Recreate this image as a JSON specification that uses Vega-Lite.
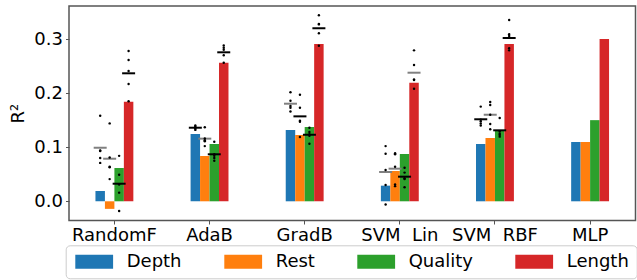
{
  "$schema": "https://vega.github.io/schema/vega-lite/v6.json",
  "width": 566.5,
  "height": 214.5,
  "autosize": {"type": "none"},
  "padding": {"left": 69, "top": 6, "right": 1.5, "bottom": 59.5},
  "background": "white",
  "config": {
    "font": "DejaVu Sans",
    "view": {"stroke": "#555555", "strokeWidth": 1.5},
    "axis": {"labelColor": "black", "titleColor": "black", "tickColor": "#555555", "domain": false, "grid": false}
  },
  "datasets": {
    "bars": [
      {"model": "RandomF", "feature": "Depth", "r2": 0.019},
      {"model": "RandomF", "feature": "Rest", "r2": -0.014},
      {"model": "RandomF", "feature": "Quality", "r2": 0.0615},
      {"model": "RandomF", "feature": "Length", "r2": 0.184},
      {"model": "AdaB", "feature": "Depth", "r2": 0.1244},
      {"model": "AdaB", "feature": "Rest", "r2": 0.0837},
      {"model": "AdaB", "feature": "Quality", "r2": 0.1059},
      {"model": "AdaB", "feature": "Length", "r2": 0.2562},
      {"model": "GradB", "feature": "Depth", "r2": 0.1318},
      {"model": "GradB", "feature": "Rest", "r2": 0.1226},
      {"model": "GradB", "feature": "Quality", "r2": 0.1373},
      {"model": "GradB", "feature": "Length", "r2": 0.2908},
      {"model": "SVM\u00a0\u00a0Lin", "feature": "Depth", "r2": 0.0289},
      {"model": "SVM\u00a0\u00a0Lin", "feature": "Rest", "r2": 0.056},
      {"model": "SVM\u00a0\u00a0Lin", "feature": "Quality", "r2": 0.0874},
      {"model": "SVM\u00a0\u00a0Lin", "feature": "Length", "r2": 0.2193},
      {"model": "SVM\u00a0\u00a0RBF", "feature": "Depth", "r2": 0.1059},
      {"model": "SVM\u00a0\u00a0RBF", "feature": "Rest", "r2": 0.117},
      {"model": "SVM\u00a0\u00a0RBF", "feature": "Quality", "r2": 0.1312},
      {"model": "SVM\u00a0\u00a0RBF", "feature": "Length", "r2": 0.2908},
      {"model": "MLP", "feature": "Depth", "r2": 0.1096},
      {"model": "MLP", "feature": "Rest", "r2": 0.1096},
      {"model": "MLP", "feature": "Quality", "r2": 0.15},
      {"model": "MLP", "feature": "Length", "r2": 0.3}
    ],
    "means": [
      {"model": "RandomF", "feature": "Depth", "r2": 0.099, "tone": "light"},
      {"model": "RandomF", "feature": "Rest", "r2": 0.0787, "tone": "light"},
      {"model": "RandomF", "feature": "Quality", "r2": 0.0325, "tone": "dark"},
      {"model": "RandomF", "feature": "Length", "r2": 0.2366, "tone": "dark"},
      {"model": "AdaB", "feature": "Depth", "r2": 0.136, "tone": "dark"},
      {"model": "AdaB", "feature": "Rest", "r2": 0.1158, "tone": "light"},
      {"model": "AdaB", "feature": "Quality", "r2": 0.0869, "tone": "dark"},
      {"model": "AdaB", "feature": "Length", "r2": 0.2754, "tone": "dark"},
      {"model": "GradB", "feature": "Depth", "r2": 0.1804, "tone": "light"},
      {"model": "GradB", "feature": "Rest", "r2": 0.157, "tone": "dark"},
      {"model": "GradB", "feature": "Quality", "r2": 0.123, "tone": "dark"},
      {"model": "GradB", "feature": "Length", "r2": 0.3197, "tone": "dark"},
      {"model": "SVM\u00a0\u00a0Lin", "feature": "Depth", "r2": 0.0542, "tone": "light"},
      {"model": "SVM\u00a0\u00a0Lin", "feature": "Rest", "r2": 0.0603, "tone": "light"},
      {"model": "SVM\u00a0\u00a0Lin", "feature": "Quality", "r2": 0.0455, "tone": "dark"},
      {"model": "SVM\u00a0\u00a0Lin", "feature": "Length", "r2": 0.2377, "tone": "light"},
      {"model": "SVM\u00a0\u00a0RBF", "feature": "Depth", "r2": 0.1516, "tone": "dark"},
      {"model": "SVM\u00a0\u00a0RBF", "feature": "Rest", "r2": 0.16, "tone": "light"},
      {"model": "SVM\u00a0\u00a0RBF", "feature": "Quality", "r2": 0.1312, "tone": "dark"},
      {"model": "SVM\u00a0\u00a0RBF", "feature": "Length", "r2": 0.3018, "tone": "dark"}
    ],
    "folds": [
      {"model": "RandomF", "feature": "Depth", "r2": 0.158},
      {"model": "RandomF", "feature": "Depth", "r2": 0.094},
      {"model": "RandomF", "feature": "Depth", "r2": 0.093},
      {"model": "RandomF", "feature": "Depth", "r2": 0.08},
      {"model": "RandomF", "feature": "Depth", "r2": 0.071},
      {"model": "RandomF", "feature": "Rest", "r2": 0.144},
      {"model": "RandomF", "feature": "Rest", "r2": 0.081},
      {"model": "RandomF", "feature": "Rest", "r2": 0.064},
      {"model": "RandomF", "feature": "Rest", "r2": 0.063},
      {"model": "RandomF", "feature": "Rest", "r2": 0.041},
      {"model": "RandomF", "feature": "Quality", "r2": 0.084},
      {"model": "RandomF", "feature": "Quality", "r2": 0.049},
      {"model": "RandomF", "feature": "Quality", "r2": 0.031},
      {"model": "RandomF", "feature": "Quality", "r2": 0.016},
      {"model": "RandomF", "feature": "Quality", "r2": -0.018},
      {"model": "RandomF", "feature": "Length", "r2": 0.278},
      {"model": "RandomF", "feature": "Length", "r2": 0.261},
      {"model": "RandomF", "feature": "Length", "r2": 0.241},
      {"model": "RandomF", "feature": "Length", "r2": 0.217},
      {"model": "RandomF", "feature": "Length", "r2": 0.185},
      {"model": "AdaB", "feature": "Depth", "r2": 0.14},
      {"model": "AdaB", "feature": "Depth", "r2": 0.138},
      {"model": "AdaB", "feature": "Depth", "r2": 0.136},
      {"model": "AdaB", "feature": "Depth", "r2": 0.134},
      {"model": "AdaB", "feature": "Depth", "r2": 0.132},
      {"model": "AdaB", "feature": "Rest", "r2": 0.137},
      {"model": "AdaB", "feature": "Rest", "r2": 0.116},
      {"model": "AdaB", "feature": "Rest", "r2": 0.113},
      {"model": "AdaB", "feature": "Rest", "r2": 0.111},
      {"model": "AdaB", "feature": "Rest", "r2": 0.102},
      {"model": "AdaB", "feature": "Quality", "r2": 0.11},
      {"model": "AdaB", "feature": "Quality", "r2": 0.087},
      {"model": "AdaB", "feature": "Quality", "r2": 0.084},
      {"model": "AdaB", "feature": "Quality", "r2": 0.08},
      {"model": "AdaB", "feature": "Quality", "r2": 0.075},
      {"model": "AdaB", "feature": "Length", "r2": 0.288},
      {"model": "AdaB", "feature": "Length", "r2": 0.284},
      {"model": "AdaB", "feature": "Length", "r2": 0.28},
      {"model": "AdaB", "feature": "Length", "r2": 0.27},
      {"model": "AdaB", "feature": "Length", "r2": 0.256},
      {"model": "GradB", "feature": "Depth", "r2": 0.2015},
      {"model": "GradB", "feature": "Depth", "r2": 0.186},
      {"model": "GradB", "feature": "Depth", "r2": 0.176},
      {"model": "GradB", "feature": "Depth", "r2": 0.173},
      {"model": "GradB", "feature": "Depth", "r2": 0.166},
      {"model": "GradB", "feature": "Rest", "r2": 0.197},
      {"model": "GradB", "feature": "Rest", "r2": 0.173},
      {"model": "GradB", "feature": "Rest", "r2": 0.149},
      {"model": "GradB", "feature": "Rest", "r2": 0.147},
      {"model": "GradB", "feature": "Rest", "r2": 0.119},
      {"model": "GradB", "feature": "Quality", "r2": 0.136},
      {"model": "GradB", "feature": "Quality", "r2": 0.128},
      {"model": "GradB", "feature": "Quality", "r2": 0.124},
      {"model": "GradB", "feature": "Quality", "r2": 0.121},
      {"model": "GradB", "feature": "Quality", "r2": 0.1065},
      {"model": "GradB", "feature": "Length", "r2": 0.344},
      {"model": "GradB", "feature": "Length", "r2": 0.328},
      {"model": "GradB", "feature": "Length", "r2": 0.327},
      {"model": "GradB", "feature": "Length", "r2": 0.3105},
      {"model": "GradB", "feature": "Length", "r2": 0.2875},
      {"model": "SVM\u00a0\u00a0Lin", "feature": "Depth", "r2": 0.102},
      {"model": "SVM\u00a0\u00a0Lin", "feature": "Depth", "r2": 0.088},
      {"model": "SVM\u00a0\u00a0Lin", "feature": "Depth", "r2": 0.058},
      {"model": "SVM\u00a0\u00a0Lin", "feature": "Depth", "r2": 0.03},
      {"model": "SVM\u00a0\u00a0Lin", "feature": "Depth", "r2": -0.006},
      {"model": "SVM\u00a0\u00a0Lin", "feature": "Rest", "r2": 0.089},
      {"model": "SVM\u00a0\u00a0Lin", "feature": "Rest", "r2": 0.087},
      {"model": "SVM\u00a0\u00a0Lin", "feature": "Rest", "r2": 0.064},
      {"model": "SVM\u00a0\u00a0Lin", "feature": "Rest", "r2": 0.031},
      {"model": "SVM\u00a0\u00a0Lin", "feature": "Rest", "r2": 0.028},
      {"model": "SVM\u00a0\u00a0Lin", "feature": "Quality", "r2": 0.062},
      {"model": "SVM\u00a0\u00a0Lin", "feature": "Quality", "r2": 0.053},
      {"model": "SVM\u00a0\u00a0Lin", "feature": "Quality", "r2": 0.0425},
      {"model": "SVM\u00a0\u00a0Lin", "feature": "Quality", "r2": 0.041},
      {"model": "SVM\u00a0\u00a0Lin", "feature": "Quality", "r2": 0.026},
      {"model": "SVM\u00a0\u00a0Lin", "feature": "Length", "r2": 0.279},
      {"model": "SVM\u00a0\u00a0Lin", "feature": "Length", "r2": 0.252},
      {"model": "SVM\u00a0\u00a0Lin", "feature": "Length", "r2": 0.225},
      {"model": "SVM\u00a0\u00a0Lin", "feature": "Length", "r2": 0.224},
      {"model": "SVM\u00a0\u00a0Lin", "feature": "Length", "r2": 0.208},
      {"model": "SVM\u00a0\u00a0RBF", "feature": "Depth", "r2": 0.175},
      {"model": "SVM\u00a0\u00a0RBF", "feature": "Depth", "r2": 0.151},
      {"model": "SVM\u00a0\u00a0RBF", "feature": "Depth", "r2": 0.148},
      {"model": "SVM\u00a0\u00a0RBF", "feature": "Depth", "r2": 0.144},
      {"model": "SVM\u00a0\u00a0RBF", "feature": "Depth", "r2": 0.14},
      {"model": "SVM\u00a0\u00a0RBF", "feature": "Rest", "r2": 0.1835},
      {"model": "SVM\u00a0\u00a0RBF", "feature": "Rest", "r2": 0.178},
      {"model": "SVM\u00a0\u00a0RBF", "feature": "Rest", "r2": 0.16},
      {"model": "SVM\u00a0\u00a0RBF", "feature": "Rest", "r2": 0.143},
      {"model": "SVM\u00a0\u00a0RBF", "feature": "Rest", "r2": 0.133},
      {"model": "SVM\u00a0\u00a0RBF", "feature": "Quality", "r2": 0.154},
      {"model": "SVM\u00a0\u00a0RBF", "feature": "Quality", "r2": 0.129},
      {"model": "SVM\u00a0\u00a0RBF", "feature": "Quality", "r2": 0.125},
      {"model": "SVM\u00a0\u00a0RBF", "feature": "Quality", "r2": 0.1225},
      {"model": "SVM\u00a0\u00a0RBF", "feature": "Quality", "r2": 0.1195},
      {"model": "SVM\u00a0\u00a0RBF", "feature": "Length", "r2": 0.335},
      {"model": "SVM\u00a0\u00a0RBF", "feature": "Length", "r2": 0.309},
      {"model": "SVM\u00a0\u00a0RBF", "feature": "Length", "r2": 0.3055},
      {"model": "SVM\u00a0\u00a0RBF", "feature": "Length", "r2": 0.283},
      {"model": "SVM\u00a0\u00a0RBF", "feature": "Length", "r2": 0.279}
    ]
  },
  "encoding": {
    "x": {
      "field": "model",
      "type": "nominal",
      "scale": {
        "domain": ["RandomF", "AdaB", "GradB", "SVM\u00a0\u00a0Lin", "SVM\u00a0\u00a0RBF", "MLP"],
        "paddingInner": 0.6017,
        "paddingOuter": 0.278
      },
      "axis": {
        "title": null,
        "labelAngle": 0,
        "labelFontSize": 18,
        "labelPadding": 2,
        "tickSize": 3.5,
        "bandPosition": 0.5,
        "labelOverlap": false,
        "labelFlush": false
      }
    },
    "xOffset": {
      "field": "feature",
      "type": "nominal",
      "scale": {"domain": ["Depth", "Rest", "Quality", "Length"], "paddingInner": 0, "paddingOuter": 0}
    },
    "y": {
      "field": "r2",
      "type": "quantitative",
      "scale": {"domain": [-0.0355, 0.361], "nice": false, "zero": false},
      "axis": {
        "title": "R²",
        "titleFontSize": 18,
        "titleFontWeight": "normal",
        "titlePadding": 6,
        "values": [0, 0.1, 0.2, 0.3],
        "format": ".1f",
        "labelFontSize": 18,
        "labelPadding": 3,
        "tickSize": 3.5
      }
    }
  },
  "layer": [
    {
      "data": {"name": "bars"},
      "mark": {"type": "bar"},
      "encoding": {
        "color": {
          "field": "feature",
          "type": "nominal",
          "scale": {"domain": ["Depth", "Rest", "Quality", "Length"], "range": ["#1f77b4", "#ff7f0e", "#2ca02c", "#d62728"]},
          "legend": {
            "title": null,
            "orient": "none",
            "legendX": -3.3,
            "legendY": 239.3,
            "direction": "horizontal",
            "columns": 4,
            "symbolType": "M-2.7,-1H2.7V1H-2.7Z",
            "symbolSize": 196,
            "symbolOffset": 12,
            "symbolStrokeWidth": 0,
            "symbolOpacity": 1,
            "labelFontSize": 18,
            "labelColor": "black",
            "labelOffset": 23.5,
            "columnPadding": 40,
            "padding": 7.5,
            "strokeColor": "#cccccc",
            "fillColor": "white",
            "cornerRadius": 4
          }
        }
      }
    },
    {
      "data": {"name": "means"},
      "mark": {"type": "tick", "size": 13, "thickness": 2, "opacity": 1},
      "encoding": {
        "fill": {
          "field": "tone",
          "type": "nominal",
          "scale": {"domain": ["dark", "light"], "range": ["#000000", "#808080"]},
          "legend": null
        }
      }
    },
    {
      "data": {"name": "folds"},
      "mark": {"type": "point", "filled": true, "size": 6, "color": "black", "opacity": 1},
      "encoding": {}
    }
  ]
}
